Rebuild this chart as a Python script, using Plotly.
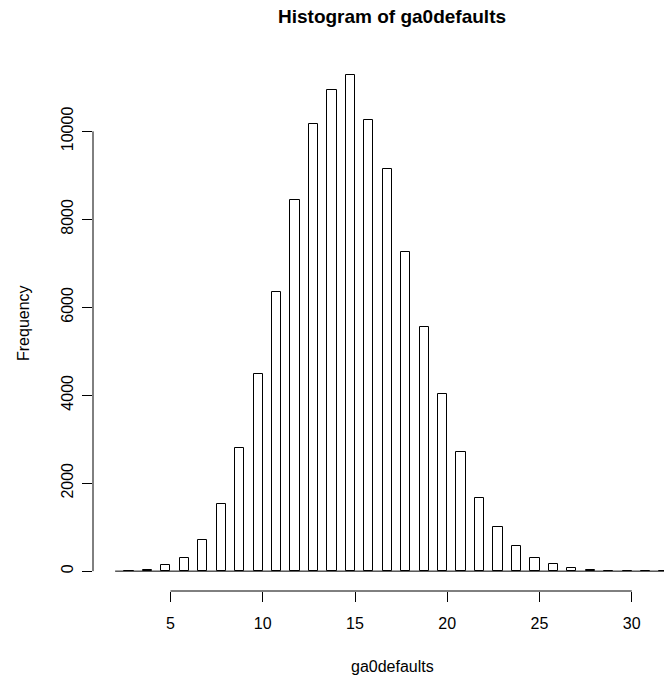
import plotly.graph_objects as go

# ---- data ----
values = list(range(3, 33))
counts = [10, 35, 130, 303, 699, 1532, 2793, 4491, 6358, 8431,
          10167, 10943, 11285, 10258, 9148, 7255, 5562, 4037, 2717, 1662,
          995, 577, 303, 166, 68, 35, 12, 5, 2, 1]
break_start, break_end, bin_width = 2.0, 32.0, 0.5
x_ticks = [5, 10, 15, 20, 25, 30]
y_ticks = [0, 2000, 4000, 6000, 8000, 10000]
y_tick_labels = ["0", "2000", "4000", "6000", "8000", "10000"]
title_text = "Histogram of ga0defaults"
x_title = "ga0defaults"
y_title = "Frequency"

# ---- layout geometry ----
W, H = 664, 678
L, T, B, R = 93, 55, 87, 0
plot_w = W - L - R
plot_h = H - T - B
span = break_end - break_start
x_lo = break_start - 0.04 * span
x_hi_full = break_end + 0.04 * span
px_per_unit = 597.8 / (x_hi_full - x_lo)
x_hi = x_lo + plot_w / px_per_unit
ymax = max(counts)
y_lo, y_hi = -0.04 * ymax, 1.04 * ymax

FONT = "Liberation Sans, Arial, Helvetica, sans-serif"

fig = go.Figure()
# baseline across all breaks (empty bins are drawn as flat lines in R)
fig.add_trace(go.Scatter(x=[break_start, break_end], y=[0, 0], mode="lines",
                         line=dict(color="black", width=1), hoverinfo="skip",
                         showlegend=False))
fig.add_trace(go.Bar(x=[v - bin_width / 2 for v in values], y=counts,
                     width=bin_width,
                     marker=dict(color="white", line=dict(color="black", width=1)),
                     showlegend=False))

fig.update_layout(
    width=W, height=H,
    margin=dict(l=L, r=R, t=T, b=B, pad=0),
    plot_bgcolor="white", paper_bgcolor="white",
    font=dict(family=FONT, size=16, color="black"),
    bargap=0,
    xaxis=dict(range=[x_lo, x_hi], tickvals=x_ticks, ticks="outside", ticklen=10,
               tickcolor="black", tickwidth=1, showgrid=False, zeroline=False,
               showline=False, tickfont=dict(size=16), ticklabelstandoff=8),
    yaxis=dict(range=[y_lo, y_hi], tickvals=y_ticks, ticktext=y_tick_labels,
               ticks="outside", ticklen=10,
               tickcolor="black", tickwidth=1, showgrid=False, zeroline=False,
               showline=False, tickangle=-90, tickfont=dict(size=16),
               ticklabelstandoff=3),
    shapes=[
        dict(type="line", xref="x", yref="paper", x0=x_ticks[0], x1=x_ticks[-1],
             y0=0, y1=0, line=dict(color="black", width=1)),
        dict(type="line", xref="paper", yref="y", x0=0, x1=0,
             y0=y_ticks[0], y1=y_ticks[-1], line=dict(color="black", width=1)),
    ],
    annotations=[
        dict(text="<b>" + title_text + "</b>", xref="paper", yref="paper",
             x=(392 - L) / plot_w, y=1 + (T - 16) / plot_h, xanchor="center",
             yanchor="middle", showarrow=False, font=dict(size=19)),
        dict(text=x_title, xref="paper", yref="paper",
             x=(392 - L) / plot_w, y=-(666.5 - (H - B)) / plot_h, xanchor="center",
             yanchor="middle", showarrow=False, font=dict(size=16)),
        dict(text=y_title, xref="paper", yref="paper", textangle=-90,
             x=(23 - L) / plot_w, y=0.5, xanchor="center",
             yanchor="middle", showarrow=False, font=dict(size=16)),
    ],
)

fig.write_html("out.html")
